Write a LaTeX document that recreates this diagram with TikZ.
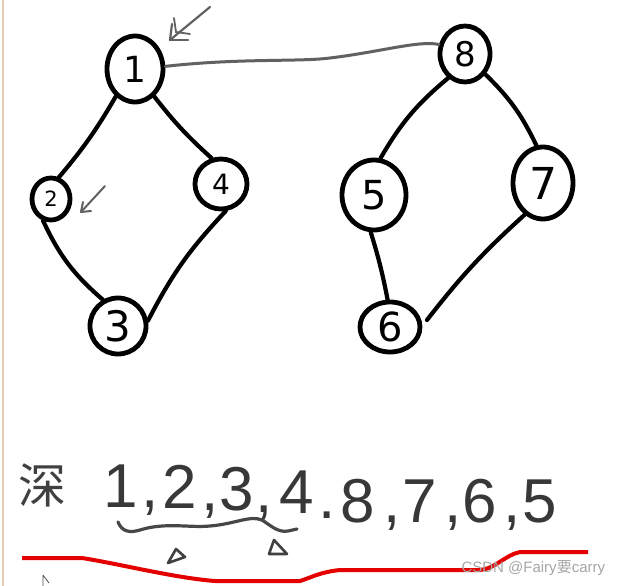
\documentclass[tikz,border=0pt]{standalone}
\usepackage{fontspec}
\setmainfont{DejaVu Sans}
\newfontfamily\handfont{Liberation Sans}
\newfontfamily\cjk{Noto Sans CJK SC}
\usetikzlibrary{shapes.geometric}
\begin{document}
\begin{tikzpicture}[x=1pt,y=-1pt,
  vtx/.style={draw=black,line width=4.8pt,ellipse,inner sep=0pt},
  edge/.style={draw=black,line width=4.2pt,line cap=round},
  grayline/.style={draw=black!62,line width=3pt,line cap=round},
  hand/.style={text=black!78,anchor=base,font=\handfont\fontsize{62}{62}\selectfont},
  fs/.style={font=\fontsize{#1}{#1}\selectfont},
]
\useasboundingbox[fill=white] (0,0) rectangle (640,586);
\draw[draw=brown!40,line width=1.2pt] (3,0) -- (3,586);
% nodes
\node[vtx,minimum width=56pt,minimum height=66pt,fs=36] (n1) at (135,69) {1};
\node[vtx,minimum width=38pt,minimum height=42pt,fs=21] (n2) at (51,199) {2};
\node[vtx,minimum width=52pt,minimum height=50pt,fs=28] (n4) at (221,184) {4};
\node[vtx,minimum width=56pt,minimum height=56pt,fs=42] (n3) at (118,326) {3};
\node[vtx,minimum width=50pt,minimum height=56pt,fs=34] (n8) at (465,54) {8};
\node[vtx,minimum width=64pt,minimum height=70pt,fs=40] (n5) at (374,195) {5};
\node[vtx,minimum width=60pt,minimum height=72pt,fs=44] (n7) at (543,183) {7};
\node[vtx,minimum width=60pt,minimum height=50pt,fs=40] (n6) at (390,327) {6};
% edges
\draw[edge] (n1.235) to[bend left=5] (n2.70);
\draw[edge] (n1.305) to[bend right=5] (n4.110);
\draw[edge] (n2.250) to[bend right=12] (n3.120);
\draw[edge] (n4.280) to[bend right=8] (n3.10);
\draw[edge] (n8.235) to[bend right=10] (n5.80);
\draw[edge] (n8.315) to[bend left=10] (n7.100);
\draw[edge] (n5.265) to[bend left=3] (n6.95);
\coordinate (e6) at (427,320);
\draw[edge] (n7.240) to[bend right=5] (e6);
\draw[grayline] (n1.5) .. controls (240,58) and (300,62) .. (330,58) .. controls (380,52) and (420,40) .. (n8.160);
% gray arrows
\coordinate (a1s) at (210,7);
\coordinate (a1e) at (170,40);
\draw[grayline,line width=2.2pt] (a1s) -- (a1e);
\draw[grayline,line width=2.2pt] (a1e) -- (172,24);
\draw[grayline,line width=2.2pt] (a1e) -- (188,40);
\draw[grayline,line width=1.8pt] (174,18) -- (176,32) -- (190,34);
\coordinate (a2s) at (105,186);
\coordinate (a2e) at (81,212);
\draw[grayline,line width=2pt] (a2s) -- (a2e);
\draw[grayline,line width=2pt] (a2e) -- (83,202);
\draw[grayline,line width=2pt] (a2e) -- (91,211);
% bottom text
\node[font=\cjk\fontsize{48}{48}\selectfont,text=black!75,anchor=base] (shen) at (43,503) {深};
\node[hand] (c1) at (121,507) {1};
\node[hand] (k1) at (150,507) {,};
\node[hand] (c2) at (180,508) {2};
\node[hand] (k2) at (210,510) {,};
\node[hand] (c3) at (237,510) {3};
\node[hand] (k3) at (264,512) {,};
\node[hand] (c4) at (297,513) {4};
\node[hand] (k4) at (327,518) {.};
\node[hand] (c8) at (358,522) {8};
\node[hand] (k5) at (392,522) {,};
\node[hand] (c7) at (420,522) {7};
\node[hand] (k6) at (453,522) {,};
\node[hand] (c6) at (480,522) {6};
\node[hand] (k7) at (512,522) {,};
\node[hand] (c5) at (540,522) {5};
% brace
\draw[draw=black!72,line width=3.2pt,line cap=round] (118,522) .. controls (122,532) and (130,533) .. (140,530) .. controls (165,522) and (190,528) .. (210,526) .. controls (235,524) and (250,515) .. (262,520) .. controls (270,525) and (278,533) .. (288,531) -- (297,529);
\draw[draw=black!75,line width=2.6pt,line join=round] (176,549) -- (168,563) -- (185,557) -- cycle;
\draw[draw=black!75,line width=2.6pt,line join=round] (274,540) -- (269,554) -- (287,554) -- cycle;
% red line
\draw[draw=red!90!black,line width=4pt] (22,558) -- (82,558) .. controls (120,564) and (175,578) .. (215,581) -- (300,581) .. controls (310,578) and (320,572) .. (340,570) -- (480,570) .. controls (495,569) and (505,555) .. (520,552) -- (588,552);
% watermark
\node[font=\handfont\fontsize{15}{15}\selectfont,text=black!35,anchor=base west] (wm) at (458,572) {CSDN @Fairy{\cjk 要}carry};
% cursor
\draw[draw=black!70,line width=0.8pt] (43,575) -- (43,586) (43,575) -- (49,583);
\end{tikzpicture}
\end{document}
